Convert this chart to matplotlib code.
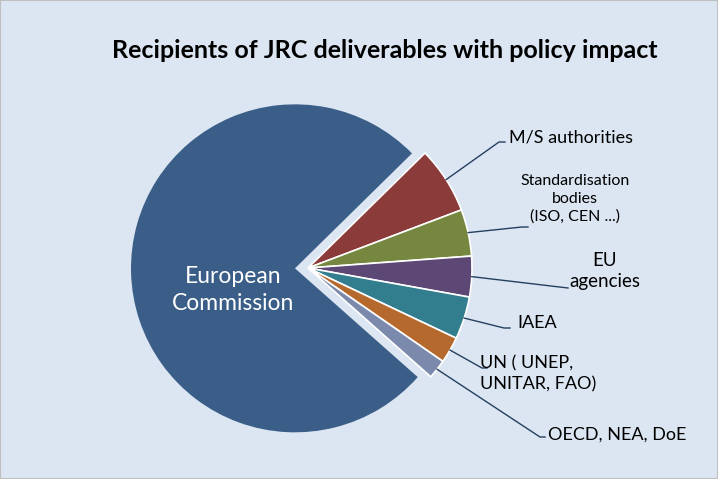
import numpy as np
import matplotlib

matplotlib.use("Agg")
import matplotlib.pyplot as plt
from matplotlib.patches import Rectangle

# Share of JRC deliverables with policy impact, by recipient (%)
labels = ["M/S authorities", "Standardisation\nbodies\n(ISO, CEN ...)", "EU\nagencies",
          "IAEA", "UN ( UNEP,\nUNITAR, FAO)", "OECD, NEA, DoE", "European\nCommission"]
shares = [6.6, 4.6, 4.0, 4.2, 2.6, 1.9, 76.1]
colors = ["#8C3B3B", "#76883F", "#5D4775", "#327E8F", "#B5692D", "#7B8AAC", "#3A5E88"]

W, H = 718, 479
BG = "#DCE6F2"
LINE = "#243F60"
plt.rcParams['font.family'] = ['Lato', 'DejaVu Sans']

fig = plt.figure(figsize=(W / 100, H / 100), dpi=100)
fig.patch.set_facecolor(BG)
ax = fig.add_axes([0, 0, 1, 1])

cx, cy, r = 308, H - 268, 164
# explode is in data units (pixels here): only the big slice is pulled out
explode = [0, 0, 0, 0, 0, 0, 13]
wedges, _ = ax.pie(shares, colors=colors, explode=explode, startangle=44.5,
                   counterclock=False, center=(cx, cy), radius=r,
                   wedgeprops=dict(edgecolor="white", linewidth=1.2))
wedges[-1].set_edgecolor("none")
ax.set_xlim(0, W)
ax.set_ylim(0, H)
ax.set_aspect('equal')
ax.axis('off')

# label anchor / elbow / text layout (pixel coordinates, y measured from top)
layout = [
    dict(elbow=(499, 142), end=(505, 142), text=(509, 137), ha="left", size=13),
    dict(elbow=(522, 227), end=(528, 227), text=(575, 199), ha="center", size=11.5),
    dict(elbow=(568, 288), end=(568, 288), text=(605, 271), ha="center", size=13.5),
    dict(elbow=(504, 328), end=(510, 328), text=(517, 323), ha="left", size=13),
    dict(elbow=(482, 368), end=(487, 368), text=(480, 374), ha="left", size=13),
    dict(elbow=(540, 437), end=(545, 437), text=(548, 435), ha="left", size=13),
]

for w, lab, lay in zip(wedges[:6], labels[:6], layout):
    mid = np.deg2rad((w.theta1 + w.theta2) / 2)
    ax0 = w.center[0] + w.r * np.cos(mid)
    ay0 = w.center[1] + w.r * np.sin(mid)
    xs = [ax0, lay["elbow"][0], lay["end"][0]]
    ys = [ay0, H - lay["elbow"][1], H - lay["end"][1]]
    ax.plot(xs, ys, color=LINE, lw=1)
    ax.text(lay["text"][0], H - lay["text"][1], lab, ha=lay["ha"], va="center",
            fontsize=lay["size"], color="black", linespacing=1.35)

ax.text(233, H - 290, labels[6], ha="center", va="center", fontsize=16.5,
        color="white", linespacing=1.3)

ax.text(385, H - 50, "Recipients of JRC deliverables with policy impact",
        ha="center", va="center", fontsize=18, fontweight="bold", color="black")

fig.patches.append(Rectangle((0, 0), 1, 1, transform=fig.transFigure, fill=False,
                             edgecolor="#BFBFBF", linewidth=1.5))

fig.savefig("out.png", dpi=100, facecolor=BG)
